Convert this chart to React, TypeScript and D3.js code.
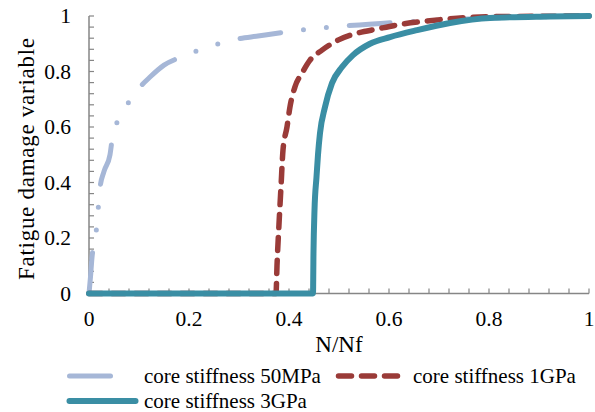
import React from "react";
import * as d3 from "d3";

// N/Nf vs damage
const x50MPa = [0, 0.003, 0.006, 0.01, 0.014, 0.018, 0.022, 0.03, 0.042, 0.048, 0.064, 0.082, 0.1, 0.122, 0.15, 0.184, 0.22, 0.26, 0.296, 0.338, 0.384, 0.428, 0.514, 0.56, 0.608, 0.7, 0.8, 0.9, 1];
const y50MPa = [0, 0.06, 0.13, 0.18, 0.218, 0.297, 0.38, 0.44, 0.5, 0.575, 0.64, 0.697, 0.74, 0.78, 0.823, 0.852, 0.877, 0.9, 0.917, 0.928, 0.94, 0.95, 0.965, 0.97, 0.976, 0.985, 0.992, 0.997, 1];

const x1GPa = [0, 0.374, 0.376, 0.38, 0.384, 0.388, 0.396, 0.402, 0.412, 0.426, 0.442, 0.466, 0.498, 0.536, 0.576, 0.628, 0.676, 0.736, 0.822, 0.9, 1];
const y1GPa = [0, 0, 0.1, 0.25, 0.385, 0.517, 0.6, 0.673, 0.745, 0.794, 0.841, 0.877, 0.913, 0.938, 0.953, 0.971, 0.982, 0.992, 0.998, 0.999, 1];

const x3GPa = [0, 0.448, 0.449, 0.451, 0.455, 0.458, 0.462, 0.472, 0.486, 0.506, 0.528, 0.562, 0.602, 0.656, 0.722, 0.802, 0.922, 1];
const y3GPa = [0, 0, 0.15, 0.3, 0.42, 0.5, 0.578, 0.672, 0.758, 0.816, 0.859, 0.9, 0.924, 0.949, 0.975, 0.993, 0.998, 1];

const tickLabels = [0, 0.2, 0.4, 0.6, 0.8, 1];
const seriesNames = ["core stiffness 50MPa", "core stiffness 1GPa", "core stiffness 3GPa"];

const FONT = "Liberation Serif";
const axisColor = "#868686";

const series = [
  { name: seriesNames[0], xs: x50MPa, ys: y50MPa, color: "#a6b7d7", width: 5, dash: "41 23 0 23 0 23" },
  { name: seriesNames[1], xs: x1GPa, ys: y1GPa, color: "#9a3b38", width: 5.5, dash: "13 10" },
  { name: seriesNames[2], xs: x3GPa, ys: y3GPa, color: "#3a8ea4", width: 6, dash: null },
];

function Label(props: any) {
  const { children, size, ...rest } = props;
  return (
    <text {...rest} fontSize={size} style={{ fontFamily: `"${FONT}"` }}>
      {children}
    </text>
  );
}

export default function App() {
  const W = 595, H = 412;
  const x = d3.scaleLinear().domain([0, 1]).range([89, 589]);
  const y = d3.scaleLinear().domain([0, 1]).range([293.5, 16]);
  const minor = d3.range(0, 1.0001, 0.04);

  const line = d3
    .line<[number, number]>()
    .x((d) => x(d[0]))
    .y((d) => y(d[1]))
    .curve(d3.curveMonotoneX);

  // legend slots
  const legendPos = [
    { x0: 69.5, x1: 132, ty: 376, tx: 144 },
    { x0: 338.5, x1: 397.5, ty: 376, tx: 413 },
    { x0: 69.5, x1: 135.5, ty: 401, tx: 144 },
  ];

  return (
    <svg width={W} height={H} style={{ position: "absolute", left: 0, top: 0 }}>
      <rect width={W} height={H} fill="#fff" />
      {/* axes */}
      <line x1={x(0)} x2={x(1)} y1={y(0)} y2={y(0)} stroke={axisColor} strokeWidth={1.5} />
      <line x1={x(0)} x2={x(0)} y1={y(0)} y2={y(1)} stroke={axisColor} strokeWidth={1.5} />
      {minor.map((t, i) => (
        <g key={"t" + i}>
          <line x1={x(t)} x2={x(t)} y1={y(0)} y2={y(0) - 5} stroke={axisColor} strokeWidth={1.2} />
          <line x1={x(0)} x2={x(0) + 5} y1={y(t)} y2={y(t)} stroke={axisColor} strokeWidth={1.2} />
        </g>
      ))}
      {tickLabels.map((t) => (
        <g key={"l" + t}>
          <Label x={x(t)} y={326} textAnchor="middle" size={21.5}>{d3.format("~g")(t)}</Label>
          <Label x={71} y={y(t)} dy="0.33em" textAnchor="end" size={21.5}>{d3.format("~g")(t)}</Label>
        </g>
      ))}
      <Label x={339} y={352} textAnchor="middle" size={23}>N/Nf</Label>
      <Label transform="translate(34,159) rotate(-90)" textAnchor="middle" size={23}
        textLength={242} lengthAdjust="spacing">
        Fatigue damage variable
      </Label>

      {/* curves */}
      {series.map((s) => (
        <path
          key={s.name}
          d={line(s.xs.map((v, i) => [v, s.ys[i]] as [number, number])) || ""}
          fill="none"
          stroke={s.color}
          strokeWidth={s.width}
          strokeDasharray={s.dash || undefined}
          strokeLinecap="round"
          strokeLinejoin="round"
        />
      ))}

      {/* legend */}
      {series.map((s, i) => {
        const p = legendPos[i];
        return (
          <g key={"lg" + i}>
            <line x1={p.x0} x2={p.x1} y1={p.ty} y2={p.ty} stroke={s.color} strokeWidth={s.width}
              strokeDasharray={s.dash || undefined} strokeLinecap="round" />
            <Label x={p.tx} y={p.ty} dy="0.33em" size={21}>{s.name}</Label>
          </g>
        );
      })}
    </svg>
  );
}
